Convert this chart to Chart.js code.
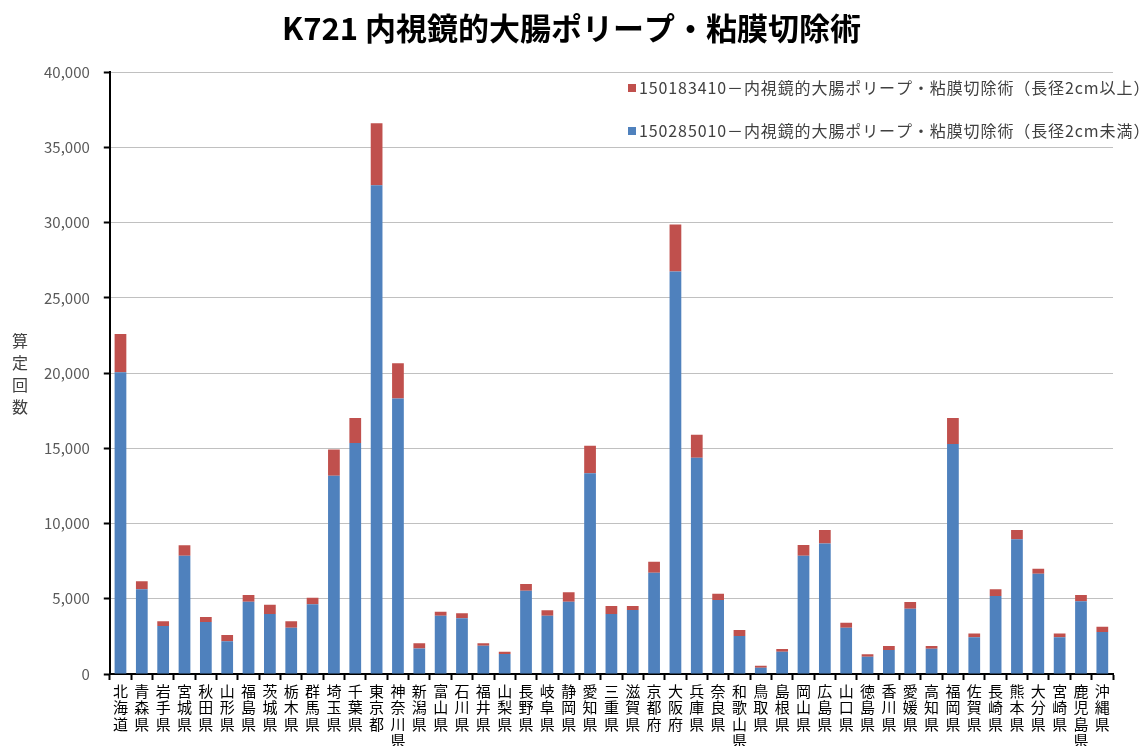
<!DOCTYPE html>
<html>
<head>
<meta charset="utf-8">
<script src="https://cdn.jsdelivr.net/npm/chart.js@4.4.1/dist/chart.umd.min.js"></script>
<style>
  html, body { margin: 0; padding: 0; background: #fff; overflow: hidden; }
  #wrap { width: 1147px; height: 752px; }
</style>
</head>
<body>
<div id="wrap"><canvas id="k721Chart" width="1147" height="752"></canvas></div>
<script>
const prefectures = ['北海道','青森県','岩手県','宮城県','秋田県','山形県','福島県','茨城県','栃木県','群馬県',
  '埼玉県','千葉県','東京都','神奈川県','新潟県','富山県','石川県','福井県','山梨県','長野県',
  '岐阜県','静岡県','愛知県','三重県','滋賀県','京都府','大阪府','兵庫県','奈良県','和歌山県',
  '鳥取県','島根県','岡山県','広島県','山口県','徳島県','香川県','愛媛県','高知県','福岡県',
  '佐賀県','長崎県','熊本県','大分県','宮崎県','鹿児島県','沖縄県']

// 150285010 (長径2cm未満)
const under2cm = [20050, 5630, 3190, 7860, 3460, 2170, 4810, 3990, 3080, 4630,
  13180, 15350, 32490, 18320, 1690, 3880, 3700, 1880, 1330, 5540,
  3880, 4810, 13340, 3990, 4250, 6730, 26760, 14370, 4920, 2520,
  410, 1480, 7860, 8680, 3080, 1150, 1590, 4340, 1680, 15280,
  2440, 5180, 8950, 6660, 2440, 4830, 2790]

// 150183410 (長径2cm以上)
const over2cm = [2550, 540, 310, 690, 330, 420, 440, 620, 420, 440,
  1750, 1660, 4110, 2340, 350, 260, 330, 160, 150, 440,
  350, 620, 1830, 530, 270, 730, 3120, 1530, 420, 400,
  140, 180, 710, 890, 330, 160, 270, 440, 180, 1730,
  260, 450, 620, 340, 260, 420, 350]

const yTicks = [0, 5000, 10000, 15000, 20000, 25000, 30000, 35000, 40000]

const FONT = '"Noto Sans CJK JP", "Noto Sans", sans-serif'
Chart.defaults.font.family = FONT

// legend inside plot area (top right) + stacked y title
const extras = {
  id: 'extras',
  afterDraw(chart) {
    const ctx = chart.ctx
    ctx.save()
    ctx.font = '16px ' + FONT
    ctx.textBaseline = 'middle'
    ctx.letterSpacing = '0.9px'
    const items = chart.data.datasets.slice().reverse()
    items.forEach((ds, i) => {
      const y = 88 + i * 43
      ctx.fillStyle = ds.backgroundColor
      ctx.fillRect(628, y - 4, 8, 8)
      ctx.fillStyle = '#404040'
      ctx.fillText(ds.label, 639, y)
    })
    ctx.letterSpacing = '0px'
    ctx.fillStyle = '#404040'
    ctx.textAlign = 'center'
    '算定回数'.split('').forEach((c, i) => ctx.fillText(c, 20, 341 + i * 22))
    ctx.restore()
  }
}

new Chart(document.getElementById('k721Chart').getContext('2d'), {
  type: 'bar',
  data: {
    labels: prefectures.map(p => p.split('')),
    datasets: [{
      label: '150285010－内視鏡的大腸ポリープ・粘膜切除術（長径2cm未満）',
      data: under2cm,
      backgroundColor: '#4F81BD'
    }, {
      label: '150183410－内視鏡的大腸ポリープ・粘膜切除術（長径2cm以上）',
      data: over2cm,
      backgroundColor: '#C0504D'
    }]
  },
  options: {
    responsive: false,
    animation: false,
    layout: { padding: { left: 30, right: 34, top: 0, bottom: 0 } },
    datasets: { bar: { categoryPercentage: 1, barPercentage: 0.55 } },
    plugins: {
      legend: { display: false },
      tooltip: { enabled: false },
      title: {
        display: true,
        text: 'K721 内視鏡的大腸ポリープ・粘膜切除術',
        color: '#000',
        font: { size: 31, weight: 'bold' },
        padding: { top: 10, bottom: 25 }
      }
    },
    scales: {
      x: {
        stacked: true,
        grid: { offset: true, drawOnChartArea: false, tickLength: 6, tickColor: '#000', tickWidth: 2 },
        border: { color: '#000', width: 2 },
        ticks: { color: '#000', font: { size: 15, lineHeight: 1.1 }, maxRotation: 0, minRotation: 0, autoSkip: false, padding: 3 }
      },
      y: {
        stacked: true,
        min: 0,
        max: 40000,
        afterBuildTicks: axis => { axis.ticks = yTicks.map(v => ({ value: v })) },
        grid: { color: '#c0c0c0', tickColor: '#000', tickLength: 6, tickWidth: 2 },
        border: { color: '#000', width: 2 },
        ticks: {
          color: '#595959',
          font: { size: 15 },
          padding: 14,
          callback: v => v.toLocaleString('en-US')
        }
      }
    }
  },
  plugins: [extras]
})
</script>
</body>
</html>
